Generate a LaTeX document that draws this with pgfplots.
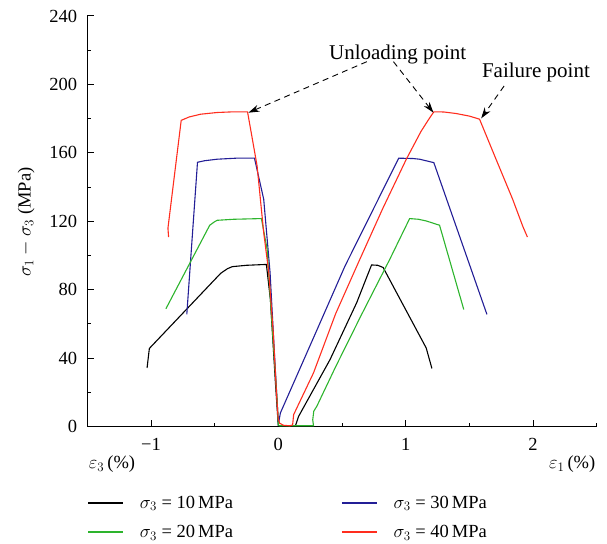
\RequirePackage{fix-cm}
\documentclass[border=0pt]{standalone}
\usepackage{fontspec}
\setmainfont{Liberation Serif}
\usepackage{pgfplots}
\pgfplotsset{compat=1.18}
\usetikzlibrary{arrows.meta}
\definecolor{cred}{RGB}{255,45,30}
\definecolor{cgreen}{RGB}{45,180,45}
\definecolor{cblue}{RGB}{35,30,150}
\begin{document}
\begin{tikzpicture}[font=\fontsize{18.5}{22}\selectfont]
\begin{axis}[
  scale only axis, width=509.4pt, height=410.7pt,
  xmin=-1.5, xmax=2.5, ymin=0, ymax=240,
  axis lines*=left,
  axis line style={line width=1.1pt},
  tick align=inside,
  every tick/.style={black, line width=1pt},
  major tick length=7pt, minor tick length=4pt,
  xtick={-1,0,1,2}, xticklabels={−1,0,1,2},
  minor xtick={-0.5,0.5,1.5,2.5},
  ytick={0,40,...,240}, minor ytick={20,60,...,220},
  yticklabel style={inner sep=0pt, xshift=-10pt, /pgf/number format/assume math mode=true},
  xticklabel style={inner sep=0pt, yshift=-11pt},
  clip=false,
  legend style={at={(axis cs:-1.502,-39.2)}, anchor=north west, draw=none, fill=none,
    inner sep=0pt, row sep=11.5pt, column sep=14pt},
  legend cell align=left,
  legend columns=2,
  legend image post style={xscale=2.05, line width=1.5pt},
]
\addplot[black, line width=1.1pt] coordinates {
(-1.031,34.3) (-1.013,45.7) (-0.453,89.6) (-0.40,92.3) (-0.362,93.5) (-0.25,94.3)
(-0.094,94.8) (-0.0625,74.3) (-0.023,25.6) (-0.002,2.2) (0,0.3) (0.133,0.3)
(0.159,6) (0.406,39.2) (0.615,72.4) (0.70,88.5) (0.732,94.5) (0.78,94.3)
(0.823,93) (0.953,74.9) (1.161,46) (1.206,34)};
\addlegendentry{\rule{0pt}{12pt}\rule[-4pt]{0pt}{4pt}$\sigma_3$ = 10\,MPa\hspace*{92pt}}
\addplot[cblue, line width=1.1pt] coordinates {
(-0.719,65.6) (-0.635,154.5) (-0.58,155.4) (-0.48,156.3) (-0.33,156.9) (-0.1875,156.9)
(-0.115,132.9) (-0.065,90) (-0.025,35) (0,2) (0.004,3) (0.016,8) (0.30,56) (0.523,93.8)
(0.745,127) (0.945,156.9) (1.057,156.7) (1.109,156.3) (1.221,154.3) (1.638,65.6)};
\addlegendentry{\rule{0pt}{12pt}\rule[-4pt]{0pt}{4pt}$\sigma_3$ = 30\,MPa}
\addplot[cgreen, line width=1.1pt] coordinates {
(-0.883,68.9) (-0.539,117.7) (-0.50,119.8) (-0.479,120.6) (-0.35,121.2) (-0.133,121.6)
(-0.088,103.6) (-0.05,60) (-0.010,15.8) (0,1) (0.01,0.5) (0.276,0.5) (0.27,4)
(0.278,9) (0.302,11.9) (0.45,35) (0.65,65) (0.875,97.8) (1.031,121.6) (1.10,121.2)
(1.162,120.2) (1.266,117.7) (1.456,68.5)};
\addlegendentry{\rule{0pt}{12pt}\rule[-4pt]{0pt}{4pt}$\sigma_3$ = 20\,MPa\hspace*{92pt}}
\addplot[cred, line width=1.1pt] coordinates {
(-0.862,110.8) (-0.867,116) (-0.763,179) (-0.70,181) (-0.61,182.6) (-0.48,183.6)
(-0.35,184) (-0.242,184) (-0.167,152.4) (-0.115,113.4) (-0.075,90) (-0.04,55)
(-0.015,20) (-0.002,5) (0.01,2) (0.04,0.8) (0.09,0.5) (0.112,1) (0.12,7)
(0.276,31.4) (0.45,66) (0.64,97.8) (0.82,127.5) (1.005,156.3) (1.12,172.5) (1.18,179.5) (1.221,184)
(1.30,183.9) (1.396,183) (1.50,181.5) (1.58,179.7) (1.70,158) (1.84,132.9)
(1.92,117) (1.956,110.8)};
\addlegendentry{\rule{0pt}{12pt}\rule[-4pt]{0pt}{4pt}$\sigma_3$ = 40\,MPa}
\node[anchor=base, font=\fontsize{21}{24}\selectfont] at (axis cs:0.937,214.3) {Unloading point};
\node[anchor=base, font=\fontsize{21}{24}\selectfont] at (axis cs:2.023,204.2) {Failure point};
\draw[black, line width=0.9pt, dash pattern=on 6pt off 4.5pt, -{Stealth[length=11pt,width=7pt]}]
  (axis cs:0.695,213.3) -- (axis cs:-0.235,183.5);
\draw[black, line width=0.9pt, dash pattern=on 6pt off 4.5pt, -{Stealth[length=11pt,width=7pt]}]
  (axis cs:0.904,213.3) -- (axis cs:1.218,183.5);
\draw[black, line width=0.9pt, dash pattern=on 6pt off 4.5pt, -{Stealth[length=11pt,width=7pt]}]
  (axis cs:1.773,199.1) -- (axis cs:1.593,180.2);
\node[anchor=base] at (axis cs:-1.306,-24.7) {$\varepsilon_3$\,(\%)};
\node[anchor=base] at (axis cs:2.308,-24.7) {$\varepsilon_1$\,(\%)};
\node[rotate=90, anchor=center] at (axis cs:-1.98,119.6) {$\sigma_1-\sigma_3$ (MPa)};
\coordinate (bbsw) at (axis cs:-2.186,-68.54);
\coordinate (bbne) at (axis cs:2.581,249.35);
\end{axis}
\pgfresetboundingbox
\path (bbsw) rectangle (bbne);
\end{tikzpicture}
\end{document}
